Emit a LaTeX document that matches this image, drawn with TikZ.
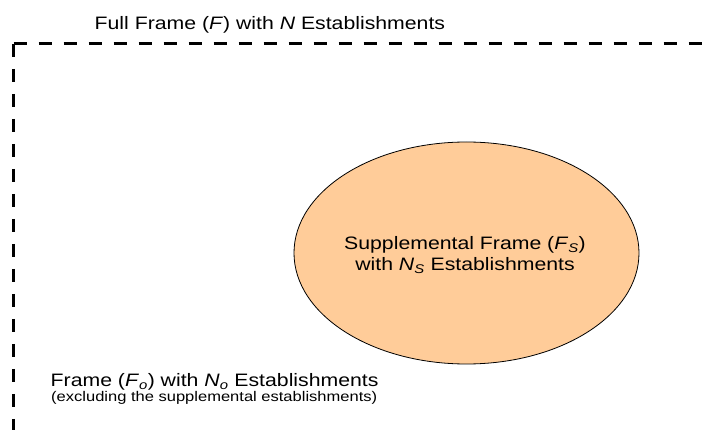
\documentclass[tikz,border=0pt]{standalone}
\usepackage{fontspec}
\setmainfont{Liberation Sans}[FakeStretch=1.18]
\usetikzlibrary{shapes.geometric}
\definecolor{suppfill}{HTML}{FFCC99}
\newcommand{\framesub}[1]{\textsubscript{\textit{#1}}}

\begin{document}
\begin{tikzpicture}[x=1pt, y=-1pt,
every node/.style={inner sep=0pt},
bigtext/.style={font=\fontsize{18}{21}\selectfont},
smalltext/.style={font=\fontsize{14}{16}\selectfont},
framedash/.style={line width=3pt, dash pattern=on 13.5pt off 11.5pt}
]
\useasboundingbox (0,0) rectangle (710,430);

% dashed frame border
\coordinate (corner) at (13.5,44);
\coordinate (leftend) at (13.5,430);
\coordinate (rightend) at (710,44);
\draw[framedash] (corner) -- (leftend);
\draw[framedash] (corner) -- (rightend);

\node[bigtext, anchor=base west] (full) at (94.5,30) {Full Frame (\textit{F}) with \textit{N} Establishments};

% supplemental frame
\node[ellipse, draw, fill=suppfill, line width=0.8pt, minimum width=345pt, minimum height=222pt] (supp) at (466.5,253) {};
\node[bigtext, align=center, anchor=base] (supptext) at (465,271) {Supplemental Frame (\textit{F}\framesub{S})\\with \textit{N}\framesub{S} Establishments};

\node[bigtext, anchor=base west] (rest) at (50.5,386.5) {Frame (\textit{F}\framesub{o}) with \textit{N}\framesub{o} Establishments};
\node[smalltext, anchor=base west] (restnote) at (51,402) {(excluding the supplemental establishments)};
\end{tikzpicture}
\end{document}
